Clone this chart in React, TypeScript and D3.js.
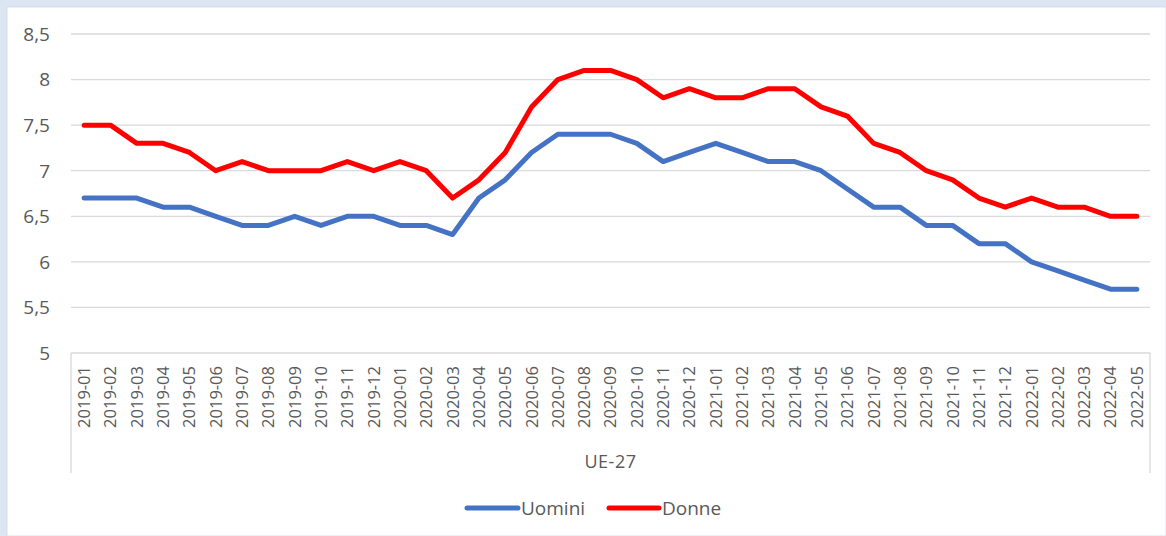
import React from "react";
import * as d3 from "d3";

const categories = [
  "2019-01","2019-02","2019-03","2019-04","2019-05","2019-06","2019-07","2019-08","2019-09","2019-10","2019-11","2019-12",
  "2020-01","2020-02","2020-03","2020-04","2020-05","2020-06","2020-07","2020-08","2020-09","2020-10","2020-11","2020-12",
  "2021-01","2021-02","2021-03","2021-04","2021-05","2021-06","2021-07","2021-08","2021-09","2021-10","2021-11","2021-12",
  "2022-01","2022-02","2022-03","2022-04","2022-05",
];

const uomini = [
  6.7, 6.7, 6.7, 6.6, 6.6, 6.5, 6.4, 6.4, 6.5, 6.4, 6.5, 6.5,
  6.4, 6.4, 6.3, 6.7, 6.9, 7.2, 7.4, 7.4, 7.4, 7.3, 7.1, 7.2,
  7.3, 7.2, 7.1, 7.1, 7.0, 6.8, 6.6, 6.6, 6.4, 6.4, 6.2, 6.2,
  6.0, 5.9, 5.8, 5.7, 5.7,
];

const donne = [
  7.5, 7.5, 7.3, 7.3, 7.2, 7.0, 7.1, 7.0, 7.0, 7.0, 7.1, 7.0,
  7.1, 7.0, 6.7, 6.9, 7.2, 7.7, 8.0, 8.1, 8.1, 8.0, 7.8, 7.9,
  7.8, 7.8, 7.9, 7.9, 7.7, 7.6, 7.3, 7.2, 7.0, 6.9, 6.7, 6.6,
  6.7, 6.6, 6.6, 6.5, 6.5,
];

const yTicks = [5, 5.5, 6, 6.5, 7, 7.5, 8, 8.5];
const groupLabel = "UE-27";
const seriesNames = ["Uomini", "Donne"];
const seriesColors = ["#4472C4", "#FF0000"];

const W = 1166;
const H = 536;
const FONT = "'Open Sans', 'Liberation Sans', sans-serif";
const TEXT = "#595959";

export default function App() {
  const left = 71;
  const right = 1150;
  const top = 34;
  const bottom = 353;

  const x = d3.scaleBand<string>().domain(categories).range([left, right]);
  const y = d3.scaleLinear().domain([5, 8.5]).range([bottom, top]);
  const cx = (c: string) => (x(c) as number) + x.bandwidth() / 2;

  const line = d3
    .line<number>()
    .x((_, i) => cx(categories[i]))
    .y((d) => y(d));

  const fmt = (v: number) => String(v).replace(".", ",");

  const series = [uomini, donne];

  return (
    <svg
      width={W}
      height={H}
      style={{ position: "absolute", left: 0, top: 0, display: "block" }}
      fontFamily={FONT}
    >
      <rect x={0} y={0} width={W} height={H} fill="#DCE6F2" />
      <rect x={7} y={7} width={W - 7} height={H - 7} fill="#FFFFFF" stroke="#D0D7E0" strokeWidth={0.8} />

      {/* gridlines */}
      {yTicks.map((t) => (
        <line
          key={"g" + t}
          x1={left}
          x2={right}
          y1={y(t)}
          y2={y(t)}
          stroke="#D9D9D9"
          strokeWidth={1.3}
        />
      ))}

      {/* y labels */}
      {yTicks.map((t) => (
        <text
          key={"yl" + t}
          x={50}
          y={y(t)}
          dy="0.36em"
          textAnchor="end"
          fontSize={19}
          fill={TEXT}
        >
          {fmt(t)}
        </text>
      ))}

      {/* category axis box */}
      <line x1={left} x2={left} y1={bottom} y2={473} stroke="#D9D9D9" strokeWidth={1.3} />
      <line x1={right} x2={right} y1={bottom} y2={473} stroke="#D9D9D9" strokeWidth={1.3} />

      {/* x labels */}
      {categories.map((c) => (
        <text
          key={"xl" + c}
          transform={`translate(${cx(c)},366) rotate(-90)`}
          textAnchor="end"
          dy="0.36em"
          fontSize={16.5}
          fill={TEXT}
        >
          {c}
        </text>
      ))}

      <text x={(left + right) / 2} y={468} textAnchor="middle" fontSize={18} fill={TEXT} letterSpacing={0.5}>
        {groupLabel}
      </text>

      {/* series */}
      {series.map((s, i) => (
        <path
          key={"s" + i}
          d={line(s) as string}
          fill="none"
          stroke={seriesColors[i]}
          strokeWidth={5}
          strokeLinejoin="round"
          strokeLinecap="round"
        />
      ))}

      {/* legend */}
      {[
        { x1: 467, x2: 518, tx: 521 },
        { x1: 609, x2: 659, tx: 662 },
      ].map((l, i) => (
        <g key={"lg" + i}>
          <line x1={l.x1} x2={l.x2} y1={508} y2={508} stroke={seriesColors[i]} strokeWidth={5} strokeLinecap="round" />
          <text x={l.tx} y={508} dy="0.36em" fontSize={19} fill={TEXT}>
            {seriesNames[i]}
          </text>
        </g>
      ))}
    </svg>
  );
}
